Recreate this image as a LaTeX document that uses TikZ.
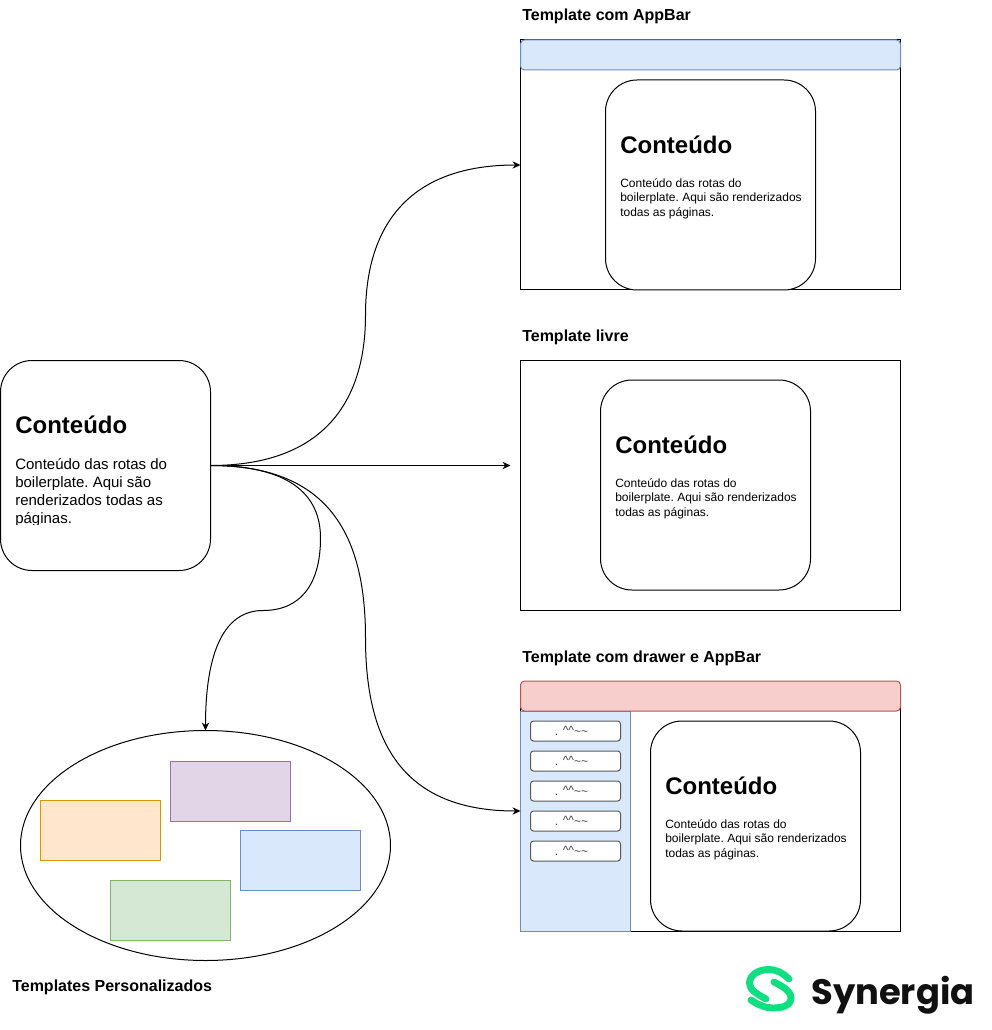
\documentclass[tikz,border=0pt]{standalone}
\usepackage{fontspec}
\setmainfont{Liberation Sans}
\newfontfamily\logofont{Poppins}
\usetikzlibrary{arrows.meta,shapes.geometric}
\definecolor{blueF}{HTML}{DAE8FC}\definecolor{blueD}{HTML}{6C8EBF}
\definecolor{redF}{HTML}{F8CECC}\definecolor{redD}{HTML}{B85450}
\definecolor{purpF}{HTML}{E1D5E7}\definecolor{purpD}{HTML}{9673A6}
\definecolor{oranF}{HTML}{FFE6CC}\definecolor{oranD}{HTML}{D79B00}
\definecolor{greenF}{HTML}{D5E8D4}\definecolor{greenD}{HTML}{82B366}
\definecolor{logoG}{HTML}{10DE80}\definecolor{logoK}{HTML}{111111}
\tikzset{
  sz/.style 2 args={minimum width=#1*0.75pt,minimum height=#2*0.75pt},
  shape base/.style={draw,line width=.75pt,inner sep=0pt,outer sep=0pt,anchor=north west},
  frame/.style={shape base,rectangle,black},
  content/.style={shape base,rectangle,rounded corners=23.6pt,sz={210}{210},fill=white},
  bar/.style={shape base,rectangle,rounded corners=3pt,sz={380}{30}},
  item/.style={shape base,rectangle,rounded corners=2.2pt,sz={90}{20},draw=black!65,fill=white,
     font=\fontsize{9}{10}\selectfont,text=black!75},
  swatch/.style={shape base,rectangle,sz={120}{60}},
  ttl/.style={inner sep=0pt,anchor=west,font=\fontsize{18}{20}\selectfont\bfseries},
  body/.style={inner sep=0pt,anchor=north west,align=left,font=\frenchspacing\fontsize{9}{10.9}\selectfont},
  bodybig/.style={inner sep=0pt,anchor=north west,align=left,font=\frenchspacing\fontsize{11.25}{13.5}\selectfont},
  head/.style={inner sep=0pt,anchor=west,font=\fontsize{12}{14}\selectfont\bfseries},
  link/.style={line width=.75pt,-{Stealth[length=6pt,width=5.5pt]}}
}
\newcommand{\itemtext}{\hspace*{-6pt}. \raisebox{1pt}{\textasciicircum\textasciicircum}\textasciitilde\textasciitilde}
\begin{document}
\begin{tikzpicture}[x=0.75pt,y=-0.75pt]
\useasboundingbox (0,0) rectangle (991,1030);
% frames
\node[frame,sz={380}{250}] (f1) at (520.5,40) {};
\node[frame,sz={380}{250}] (f2) at (520.5,360) {};
\node[frame,sz={380}{240}] (f3) at (520.5,691) {};
% bars
\node[bar,fill=blueF,draw=blueD] (b1) at (520.5,40) {};
\node[shape base,rectangle,sz={110}{220},fill=blueF,draw=blueD] (dr) at (520.5,711) {};
\node[bar,fill=redF,draw=redD] (b3) at (520.5,681) {};
% drawer items
\node[item] (i1) at (530.5,721) {\itemtext};
\node[item] (i2) at (530.5,751) {\itemtext};
\node[item] (i3) at (530.5,781) {\itemtext};
\node[item] (i4) at (530.5,811) {\itemtext};
\node[item] (i5) at (530.5,841) {\itemtext};
% content boxes
\node[content] (c0) at (0.5,360.5) {};
\node[content] (c1) at (605.5,80) {};
\node[content] (c2) at (600.5,380) {};
\node[content] (c3) at (650.5,721) {};
\node[ttl] (t0) at (15,425) {Conteúdo};
\begin{scope}
\clip (0,440) rectangle (210,524);
\node[bodybig] (d0) at (15,458.5) {Conteúdo das rotas do\\boilerplate. Aqui são\\renderizados todas as\\páginas.};
\end{scope}
\node[ttl] (t1) at (620,145) {Conteúdo};
\node[body] (d1) at (620,178) {Conteúdo das rotas do\\boilerplate. Aqui são renderizados\\todas as páginas.};
\node[ttl] (t2) at (615,445) {Conteúdo};
\node[body] (d2) at (615,478) {Conteúdo das rotas do\\boilerplate. Aqui são renderizados\\todas as páginas.};
\node[ttl] (t3) at (665,786) {Conteúdo};
\node[body] (d3) at (665,819) {Conteúdo das rotas do\\boilerplate. Aqui são renderizados\\todas as páginas.};
% headings
\node[head] (h1) at (522,16.5) {Template com AppBar};
\node[head] (h2) at (522,337) {Template livre};
\node[head] (h3) at (522,658) {Template com drawer e AppBar};
\node[head] (h4) at (12,987) {Templates Personalizados};
% ellipse
\node[ellipse,draw,line width=.75pt,inner sep=0pt,outer sep=0pt,fill=white,minimum width=277.5pt,minimum height=172.5pt] (el) at (205.5,845.5) {};
\node[swatch,fill=purpF,draw=purpD] (s1) at (170.5,761.5) {};
\node[swatch,fill=oranF,draw=oranD] (s2) at (40.5,800.5) {};
\node[swatch,fill=blueF,draw=blueD] (s3) at (240.5,830.5) {};
\node[swatch,fill=greenF,draw=greenD] (s4) at (110.5,880.5) {};
% connectors
\coordinate (m2) at (510.5,465.5);
\draw[link] (c0.east) .. controls (325,465.5) and (365.5,400) .. (365.5,315)
  .. controls (365.5,230) and (405,165) .. (f1.west);
\draw[link] (c0.east) -- (m2);
\draw[link] (c0.east) .. controls (325,465.5) and (365.5,530) .. (365.5,638)
  .. controls (365.5,745) and (405,811) .. (f3.west);
\draw[link] (c0.east) .. controls (290,465.5) and (320.5,495) .. (320.5,538)
  .. controls (320.5,585) and (300,610.5) .. (263,610.5)
  .. controls (225,610.5) and (205.5,650) .. (el.north);
% logo
\draw[logoG,line width=5.2pt,line cap=round]
  (789,979) .. controls (782,972) and (775,969.5) .. (769,969.5)
  .. controls (757,969.5) and (749.5,976) .. (749.5,983)
  .. controls (749.5,990) and (757,994) .. (766,999);
\draw[logoG,line width=5.2pt,line cap=round]
  (774,982) .. controls (782,986) and (791,991) .. (791,998)
  .. controls (791,1005) and (783,1008) .. (773,1008)
  .. controls (766,1008) and (758,1005) .. (751,1000);
\node[inner sep=0pt,anchor=base west,text=logoK,font=\logofont\fontsize{26.5}{30}\selectfont\bfseries] (logo) at (811,1004) {Synergia};
\end{tikzpicture}
\end{document}
